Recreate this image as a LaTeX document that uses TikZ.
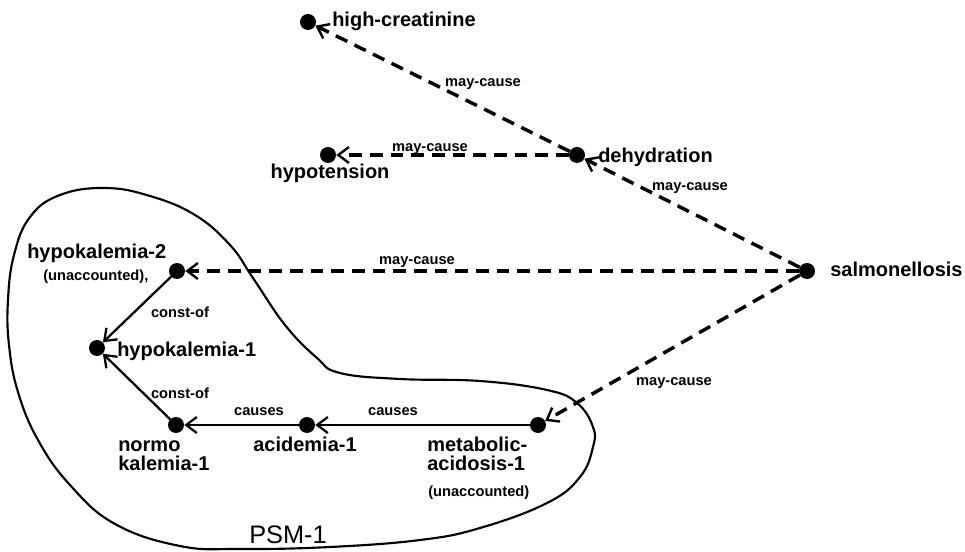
\documentclass[tikz,border=0pt]{standalone}
\usepackage{fontspec}
\setmainfont{Liberation Sans}
\usetikzlibrary{arrows.meta}
\begin{document}
\begin{tikzpicture}[x=0.75pt,y=-0.75pt,
  dot/.style={circle,fill=black,inner sep=0pt,minimum size=12pt},
  biglbl/.style={font=\fontsize{15}{17}\selectfont\bfseries,inner sep=0pt},
  smalllbl/.style={font=\fontsize{11}{12}\selectfont\bfseries,inner sep=0pt},
  maybe/.style={line width=2.6pt,dash pattern=on 9.5pt off 6pt,-{Straight Barb[length=8pt,width=12pt,line width=1.8pt]}},
  solidarrow/.style={line width=1.7pt,-{Straight Barb[length=8pt,width=12pt]}},
  blob/.style={line width=1.6pt}
]
\useasboundingbox (0,0) rectangle (965,552);

% dots
\node[dot] (hc) at (308,22) {};
\node[dot] (dh) at (577,155) {};
\node[dot] (ht) at (328,155) {};
\node[dot] (hk2) at (177,271) {};
\node[dot] (hk1) at (97,348) {};
\node[dot] (nk) at (176,425) {};
\node[dot] (ac) at (307,425) {};
\node[dot] (ma) at (538,425) {};
\node[dot] (sa) at (807,271) {};

% names
\node[biglbl,anchor=base west] (thc) at (332,27) {high-creatinine};
\node[biglbl,anchor=base west] (tdh) at (598,163) {dehydration};
\node[biglbl,anchor=base] (tht) at (330,179) {hypotension};
\node[biglbl,anchor=base west] (thk2) at (27,259) {hypokalemia-2};
\node[smalllbl,anchor=base west] (thk2u) at (43,281) {(unaccounted),};
\node[biglbl,anchor=base west] (thk1) at (117,357) {hypokalemia-1};
\node[biglbl,anchor=base west] (tnk1) at (118,452) {normo};
\node[biglbl,anchor=base west] (tnk2) at (118,471) {kalemia-1};
\node[biglbl,anchor=base] (tac) at (305,452) {acidemia-1};
\node[biglbl,anchor=base west] (tma1) at (427,452) {metabolic-};
\node[biglbl,anchor=base west] (tma2) at (427,471) {acidosis-1};
\node[smalllbl,anchor=base west] (tmau) at (428,497) {(unaccounted)};
\node[biglbl,anchor=base west] (tsa) at (830,277) {salmonellosis};
\node[font=\fontsize{19}{21}\selectfont,inner sep=0pt,anchor=base] (psm) at (288,543) {PSM-1};

% edge labels
\node[smalllbl] (l1) at (483,84) {may-cause};
\node[smalllbl] (l2) at (430,149) {may-cause};
\node[smalllbl] (l3) at (690,188) {may-cause};
\node[smalllbl] (l4) at (417,262) {may-cause};
\node[smalllbl] (l5) at (674,383) {may-cause};
\node[smalllbl] (l6) at (180,312) {const-of};
\node[smalllbl] (l7) at (180,393) {const-of};
\node[smalllbl] (l8) at (259,412) {causes};
\node[smalllbl] (l9) at (393,412) {causes};

% edges
\draw[maybe] (dh) -- (hc);
\draw[maybe] (dh) -- (ht);
\draw[maybe] (sa) -- (dh);
\draw[maybe] (sa) -- (hk2);
\draw[maybe] (sa) -- (ma);
\draw[solidarrow] (hk2) -- (hk1);
\draw[solidarrow] (nk) -- (hk1);
\draw[solidarrow] (ac) -- (nk);
\draw[solidarrow] (ma) -- (ac);

% PSM-1 outline
\draw[blob] plot[smooth cycle, tension=0.7] coordinates {(240,549) (330,547) (420,540) (480,528) (547,503) (580,477) (593,447) (593,427) (577,403) (547,390) (480,381) (400,379) (340,373) (317,358) (285,325) (253,278) (230,245) (195,215) (150,196) (105,188) (60,195) (30,217) (14,255) (8,300) (9,345) (18,392) (38,440) (70,485) (115,524) (180,546)};
\end{tikzpicture}
\end{document}
